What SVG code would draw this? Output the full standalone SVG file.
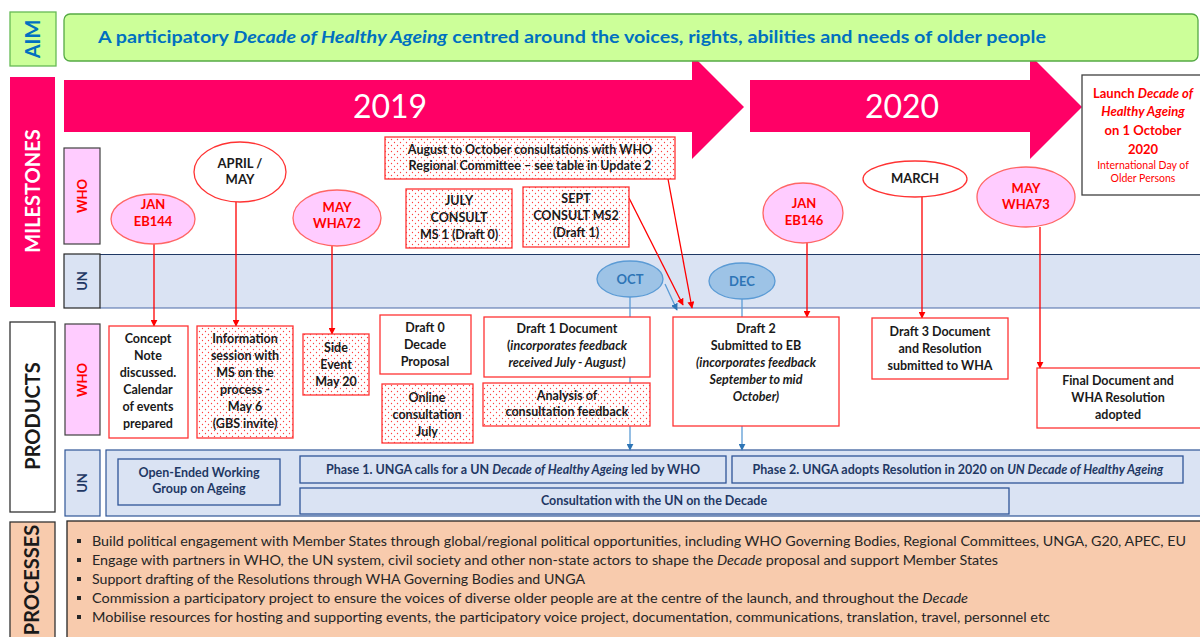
<svg xmlns="http://www.w3.org/2000/svg" width="1200" height="637" viewBox="0 0 1200 637">
<defs>
<pattern id="dots" width="6" height="6" patternUnits="userSpaceOnUse"><rect width="6" height="6" fill="#fff"/><circle cx="1.5" cy="1.5" r="0.65" fill="#ff4040"/><circle cx="4.5" cy="4.5" r="0.65" fill="#ff4040"/></pattern>
<marker id="ar" viewBox="0 0 10 10" refX="9" refY="5" markerWidth="7" markerHeight="7" orient="auto" markerUnits="userSpaceOnUse"><path d="M0,0 L10,5 L0,10 z" fill="#ff0000"/></marker>
<marker id="ab" viewBox="0 0 10 10" refX="9" refY="5" markerWidth="7" markerHeight="7" orient="auto" markerUnits="userSpaceOnUse"><path d="M0,0 L10,5 L0,10 z" fill="#2e75b6"/></marker>
</defs>
<style>
text{font-family:Lato,"Liberation Sans",sans-serif;}
.b{font-weight:bold;font-size:12.5px;fill:#1a1a1a;text-anchor:middle;}
.r{font-weight:bold;font-size:13px;fill:#ff0000;text-anchor:middle;}
.k{font-weight:bold;font-size:13px;fill:#1a1a1a;text-anchor:middle;}
.u{font-weight:bold;font-size:12.5px;fill:#1f3864;text-anchor:middle;}
.i{font-style:italic;}
.box{fill:#fff;stroke:#ff3333;stroke-width:1.3;}
.dbox{fill:url(#dots);stroke:#ff3333;stroke-width:1.3;}
.pink{fill:#ffccff;stroke:#ff6666;stroke-width:1.3;}
.wel{fill:#fff;stroke:#ff3333;stroke-width:1.3;}
.bel{fill:#9dc3e6;stroke:#5b9bd5;stroke-width:1.3;}
.ubox{fill:#dae3f3;stroke:#2f5597;stroke-width:1.3;}
.rl{stroke:#ff0000;stroke-width:1.3;fill:none;}
.bl{stroke:#5b9bd5;stroke-width:1.3;fill:none;}
.side{font-weight:bold;font-size:20px;text-anchor:middle;}
.sub{font-weight:bold;font-size:13px;text-anchor:middle;}
.p{font-size:12.5px;fill:#262626;}
</style>

<!-- big timeline arrows -->
<g id="arrow2019">
<polygon points="64,80 692,80 692,55 744,107 692,159 692,132 64,132" fill="#ff0066"/>
<text x="390" y="118" font-size="32" fill="#fff" text-anchor="middle">2019</text>
</g>
<g id="arrow2020">
<polygon points="750,80 1030,80 1030,55 1082,107 1030,159 1030,132 750,132" fill="#ff0066"/>
<text x="902" y="118" font-size="32" fill="#fff" text-anchor="middle">2020</text>
</g>

<!-- AIM -->
<g id="aim-label">
<rect x="10" y="12" width="46" height="54" fill="#ccff99" stroke="#66bb55" stroke-width="1.3"/>
<text transform="translate(40,39) rotate(-90)" class="side" font-size="18" fill="#0070c0">AIM</text>
</g>
<g id="aim">
<rect x="64" y="14" width="1134" height="47" rx="6" fill="#ccff99" stroke="#55aa44" stroke-width="1.3"/>
<text x="98" y="43" font-size="17.5" font-weight="bold" fill="#0070c0" textLength="948" lengthAdjust="spacingAndGlyphs">A participatory  <tspan class="i">Decade of Healthy Ageing</tspan> centred around  the voices, rights,  abilities and needs of older people</text>
</g>

<!-- side labels -->
<g id="milestones-label">
<rect x="10" y="77" width="45" height="230" fill="#ff0066"/>
<text transform="translate(40,191) rotate(-90)" class="side" fill="#fff">MILESTONES</text>
</g>
<g id="products-label">
<rect x="10" y="322" width="45" height="190" fill="#fff" stroke="#333" stroke-width="1.3"/>
<text transform="translate(40,416) rotate(-90)" class="side" fill="#1a1a1a">PRODUCTS</text>
</g>
<g id="processes-label">
<rect x="10" y="522" width="45" height="120" fill="#f8cbad" stroke="#333" stroke-width="1.3"/>
<text transform="translate(39,580) rotate(-90)" class="side" font-size="18.5" fill="#1a1a1a">PROCESSES</text>
</g>

<!-- bands -->
<g id="ms-who-label">
<rect x="64" y="148" width="36" height="96" fill="#ffccff" stroke="#404040" stroke-width="1.2"/>
<text transform="translate(87,196) rotate(-90)" class="sub" fill="#ff0000">WHO</text>
</g>
<g id="ms-un-band">
<rect x="100" y="254" width="1105" height="54" fill="#dae3f3"/>
<line x1="100" y1="254.5" x2="1200" y2="254.5" stroke="#1f3864" stroke-width="1.2"/>
<line x1="100" y1="308" x2="1200" y2="308" stroke="#4a6aa8" stroke-width="1.2"/>
<rect x="64" y="254" width="36" height="54" fill="#dae3f3" stroke="#262626" stroke-width="1.2"/>
<text transform="translate(87,281) rotate(-90)" class="sub" fill="#1f3864">UN</text>
</g>
<g id="pr-who-label">
<rect x="65" y="324" width="35" height="111" fill="#ffccff" stroke="#404040" stroke-width="1.2"/>
<text transform="translate(87,380) rotate(-90)" class="sub" fill="#ff0000">WHO</text>
</g>
<g id="pr-un-band">
<rect x="65" y="450" width="35" height="66" fill="#dae3f3" stroke="#2f5597" stroke-width="1.2"/>
<text transform="translate(87,483) rotate(-90)" class="sub" fill="#1f3864">UN</text>
<rect x="106" y="450" width="1100" height="66" fill="#dae3f3" stroke="#2f5597" stroke-width="1.2"/>
</g>

<!-- connectors -->
<g id="connectors">
<line class="rl" x1="154" y1="243" x2="154" y2="326" marker-end="url(#ar)"/>
<line class="rl" x1="236" y1="202" x2="236" y2="326" marker-end="url(#ar)"/>
<line class="rl" x1="332" y1="246" x2="332" y2="334" marker-end="url(#ar)"/>
<line class="rl" x1="668" y1="179" x2="692" y2="308" marker-end="url(#ar)"/>
<line class="rl" x1="629" y1="198" x2="683" y2="305" marker-end="url(#ar)"/>
<line class="bl" x1="665" y1="284" x2="677" y2="310" stroke="#2e75b6" marker-end="url(#ab)"/>
<line class="bl" x1="630" y1="297" x2="630" y2="450" marker-end="url(#ab)"/>
<line class="bl" x1="742" y1="299" x2="742" y2="450" stroke="#4472c4" marker-end="url(#ab)"/>
<line class="rl" x1="807" y1="243" x2="807" y2="317" marker-end="url(#ar)"/>
<line class="rl" x1="922" y1="197" x2="922" y2="318" marker-end="url(#ar)"/>
<line class="rl" stroke="#ff5555" x1="1040" y1="227" x2="1040" y2="368" marker-end="url(#ar)"/>
</g>

<!-- milestone nodes -->
<g id="jan-eb144"><ellipse class="pink" cx="153" cy="219" rx="42" ry="25"/><text class="r" x="153" y="209">JAN</text><text class="r" x="153" y="226">EB144</text></g>
<g id="april-may"><ellipse class="wel" cx="240" cy="172" rx="46" ry="30"/><text class="k" x="240" y="168">APRIL /</text><text class="k" x="240" y="184">MAY</text></g>
<g id="may-wha72"><ellipse class="pink" cx="337" cy="218" rx="44" ry="28"/><text class="r" x="337" y="212">MAY</text><text class="r" x="337" y="228">WHA72</text></g>
<g id="aug-oct"><rect class="dbox" x="385" y="137" width="290" height="42"/><text class="b" x="530" y="154">August to October consultations with WHO</text><text class="b" x="530" y="170">Regional Committee – see table in Update 2</text></g>
<g id="july-consult"><rect class="dbox" x="406" y="189" width="106" height="59"/><text class="b" x="459" y="205">JULY</text><text class="b" x="459" y="222">CONSULT</text><text class="b" x="459" y="239">MS 1 (Draft 0)</text></g>
<g id="sept-consult"><rect class="dbox" x="523" y="187" width="106" height="60"/><text class="b" x="576" y="203">SEPT</text><text class="b" x="576" y="220">CONSULT MS2</text><text class="b" x="576" y="237">(Draft 1)</text></g>
<g id="oct"><ellipse class="bel" cx="630" cy="279" rx="33" ry="18"/><text class="sub" x="630" y="284" fill="#2e75b6">OCT</text></g>
<g id="dec"><ellipse class="bel" cx="742" cy="281" rx="33" ry="18"/><text class="sub" x="742" y="286" fill="#2e75b6" font-size="12">DEC</text></g>
<g id="jan-eb146"><ellipse class="pink" cx="803" cy="213" rx="40" ry="30"/><text class="r" x="804" y="208">JAN</text><text class="r" x="804" y="225">EB146</text></g>
<g id="march"><ellipse class="wel" cx="915" cy="179" rx="52" ry="18"/><text class="k" x="915" y="183" font-size="12">MARCH</text></g>
<g id="may-wha73"><ellipse class="pink" cx="1026" cy="197" rx="49" ry="30"/><text class="r" x="1026" y="193">MAY</text><text class="r" x="1026" y="209">WHA73</text></g>
<g id="launch"><rect x="1082" y="75" width="130" height="120" fill="#fff" stroke="#404040" stroke-width="1.3"/>
<text class="r" font-size="13.5" x="1143" y="98">Launch <tspan class="i">Decade of</tspan></text>
<text class="r i" font-size="13.5" x="1143" y="116">Healthy Ageing</text>
<text class="r" font-size="13.5" x="1143" y="135">on 1 October</text>
<text class="r" font-size="13.5" x="1143" y="154">2020</text>
<text x="1143" y="169" font-size="10.5" fill="#ff0000" text-anchor="middle">International  Day of</text>
<text x="1143" y="182" font-size="10.5" fill="#ff0000" text-anchor="middle">Older Persons</text>
</g>

<!-- product nodes -->
<g id="concept"><rect class="box" x="109" y="326" width="79" height="112"/><text class="b" x="148" y="343">Concept</text><text class="b" x="148" y="360">Note</text><text class="b" x="148" y="377">discussed.</text><text class="b" x="148" y="394">Calendar</text><text class="b" x="148" y="411">of events</text><text class="b" x="148" y="428">prepared</text></g>
<g id="info-session"><rect class="dbox" x="197" y="326" width="96" height="112"/><text class="b" x="245" y="343">Information</text><text class="b" x="245" y="360">session with</text><text class="b" x="245" y="377">MS on the</text><text class="b" x="245" y="394">process -</text><text class="b" x="245" y="411">May 6</text><text class="b" x="245" y="428">(GBS invite)</text></g>
<g id="side-event"><rect class="dbox" x="303" y="334" width="66" height="61"/><text class="b" x="336" y="352">Side</text><text class="b" x="336" y="369">Event</text><text class="b" x="336" y="386">May 20</text></g>
<g id="draft0"><rect class="box" x="380" y="315" width="91" height="59"/><text class="b" x="425" y="332">Draft 0</text><text class="b" x="425" y="349">Decade</text><text class="b" x="425" y="366">Proposal</text></g>
<g id="online"><rect class="dbox" x="382" y="384" width="91" height="59"/><text class="b" x="427" y="402">Online</text><text class="b" x="427" y="419">consultation</text><text class="b" x="427" y="436">July</text></g>
<g id="draft1"><rect class="box" x="484" y="317" width="166" height="60"/><text class="b" x="567" y="333">Draft 1 Document</text><text class="b" x="567" y="350">(<tspan class="i">incorporates feedback</tspan></text><text class="b i" x="567" y="367">received July - August)</text></g>
<g id="analysis"><rect class="dbox" x="483" y="383" width="167" height="43"/><text class="b" x="567" y="400">Analysis of</text><text class="b" x="567" y="416">consultation feedback</text></g>
<g id="draft2"><rect class="box" x="673" y="317" width="166" height="109"/><text class="b" x="756" y="333">Draft 2</text><text class="b" x="756" y="350">Submitted to EB</text><text class="b i" x="756" y="367">(incorporates feedback</text><text class="b i" x="756" y="384">September to mid</text><text class="b i" x="756" y="401">October)</text></g>
<g id="draft3"><rect class="box" x="872" y="318" width="136" height="61"/><text class="b" x="940" y="336">Draft 3 Document</text><text class="b" x="940" y="353">and Resolution</text><text class="b" x="940" y="370">submitted to WHA</text></g>
<g id="final"><rect class="box" x="1037" y="368" width="170" height="60"/><text class="b" x="1118" y="385">Final Document and</text><text class="b" x="1118" y="402">WHA Resolution</text><text class="b" x="1118" y="419">adopted</text></g>

<!-- UN products -->
<g id="oewg"><rect class="ubox" x="118" y="459" width="162" height="46"/><text class="u" x="199" y="477">Open-Ended Working</text><text class="u" x="199" y="493">Group on Ageing</text></g>
<g id="phase1"><rect class="ubox" x="300" y="456" width="426" height="27"/><text class="u" x="513" y="474">Phase 1. UNGA calls for a UN <tspan class="i">Decade of Healthy Ageing</tspan> led by WHO</text></g>
<g id="phase2"><rect class="ubox" x="732" y="456" width="451" height="27"/><text class="u" x="958" y="474">Phase 2. UNGA adopts Resolution in 2020  on <tspan class="i">UN Decade of Healthy Ageing</tspan></text></g>
<g id="consultation-un"><rect class="ubox" x="300" y="488" width="709" height="26"/><text class="u" x="654" y="505">Consultation with the UN on the Decade</text></g>

<!-- processes -->
<g id="processes">
<rect x="67" y="521" width="1140" height="120" fill="#f8cbad" stroke="#262626" stroke-width="1.3"/>
<rect x="77" y="539" width="4" height="4" fill="#262626"/>
<rect x="77" y="558" width="4" height="4" fill="#262626"/>
<rect x="77" y="577" width="4" height="4" fill="#262626"/>
<rect x="77" y="596" width="4" height="4" fill="#262626"/>
<rect x="77" y="615" width="4" height="4" fill="#262626"/>
<text class="p" x="92" y="546" textLength="1094" lengthAdjust="spacingAndGlyphs">Build political engagement with Member States through  global/regional political opportunities,  including WHO Governing Bodies, Regional Committees, UNGA, G20, APEC, EU</text>
<text class="p" x="92" y="565" textLength="906" lengthAdjust="spacingAndGlyphs">Engage with partners in WHO, the UN system, civil society and other  non-state actors to shape the <tspan class="i">Decade</tspan> proposal and support Member States</text>
<text class="p" x="92" y="584" textLength="493" lengthAdjust="spacingAndGlyphs">Support  drafting of the Resolutions through WHA Governing Bodies and UNGA</text>
<text class="p" x="92" y="603" textLength="876" lengthAdjust="spacingAndGlyphs">Commission a participatory project to ensure the voices of diverse older people are at the centre of the launch, and throughout  the <tspan class="i">Decade</tspan></text>
<text class="p" x="92" y="622" textLength="958" lengthAdjust="spacingAndGlyphs">Mobilise resources for hosting and supporting events, the participatory voice project, documentation,  communications, translation, travel, personnel etc</text>
</g>
</svg>
